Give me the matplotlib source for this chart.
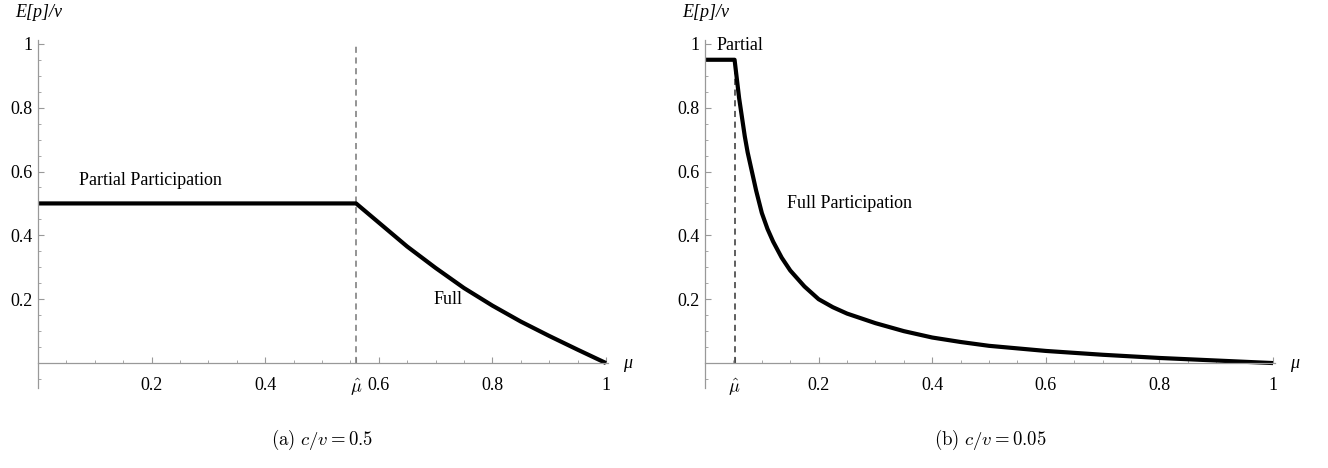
import matplotlib.pyplot as plt
from matplotlib.ticker import MultipleLocator

plt.rcParams['mathtext.fontset'] = 'cm'

# panel (a): c/v = 0.5
mu_a = [0, 0.56, 0.6, 0.65, 0.7, 0.75, 0.8, 0.85, 0.9, 0.95, 1.0]
p_a = [0.5, 0.5, 0.44, 0.365, 0.298, 0.235, 0.18, 0.13, 0.085, 0.042, 0.0]
muhat_a = 0.56

# panel (b): c/v = 0.05
mu_b = [0, 0.052, 0.056, 0.06, 0.065, 0.07, 0.075, 0.08, 0.09, 0.1, 0.11, 0.12,
        0.135, 0.15, 0.175, 0.2, 0.225, 0.25, 0.3, 0.35, 0.4, 0.45, 0.5,
        0.6, 0.7, 0.8, 0.9, 1.0]
p_b = [0.95, 0.95, 0.89, 0.83, 0.77, 0.71, 0.66, 0.62, 0.54, 0.47, 0.42, 0.38,
       0.33, 0.29, 0.24, 0.2, 0.175, 0.155, 0.125, 0.1, 0.08, 0.066, 0.054,
       0.038, 0.026, 0.016, 0.008, 0.0]
muhat_b = 0.052

yticks = [0.2, 0.4, 0.6, 0.8, 1]
ylabels = ['0.2', '0.4', '0.6', '0.8', '1']
xticks_a = [0.2, 0.4, muhat_a, 0.6, 0.8, 1]
xlabels_a = ['0.2', '0.4', r'$\hat{\mu}$', '0.6', '0.8', '1']
xticks_b = [muhat_b, 0.2, 0.4, 0.6, 0.8, 1]
xlabels_b = [r'$\hat{\mu}$', '0.2', '0.4', '0.6', '0.8', '1']

fig = plt.figure(figsize=(13.28, 4.68), dpi=100)
ax1 = fig.add_axes([0.0286, 0.171, 0.429, 0.7436])
ax2 = fig.add_axes([0.5309, 0.171, 0.429, 0.7436])

grey = '#999999'
serif = 'Liberation Serif'
fs = 13


def setup(ax, xt, xl):
    ax.set_xlim(0, 1.003)
    ax.set_ylim(-0.078, 1.012)
    for s in ['top', 'right']:
        ax.spines[s].set_visible(False)
    ax.spines['bottom'].set_position(('data', 0))
    ax.spines['left'].set_position(('data', 0))
    for s in ['bottom', 'left']:
        ax.spines[s].set_color(grey)
        ax.spines[s].set_linewidth(0.9)
    ax.set_xticks(xt)
    ax.set_xticklabels(xl, fontfamily=serif, fontsize=fs)
    ax.set_yticks(yticks)
    ax.set_yticklabels(ylabels, fontfamily=serif, fontsize=fs)
    ax.xaxis.set_minor_locator(MultipleLocator(0.05))
    ax.yaxis.set_minor_locator(MultipleLocator(0.05))
    ax.tick_params(which='major', direction='in', length=4, color=grey, width=0.8)
    ax.tick_params(which='minor', direction='in', length=2, color=grey, width=0.6)
    ax.tick_params(axis='x', pad=10)
    ax.tick_params(axis='y', pad=4)
    ax.text(1.03, 0.0, 'μ', fontsize=fs, family=serif, style='italic',
            ha='left', va='center')
    ax.text(-0.04, 1.07, 'E[p]/v', fontsize=fs, ha='left', va='bottom',
            family=serif, style='italic', clip_on=False)


setup(ax1, xticks_a, xlabels_a)
setup(ax2, xticks_b, xlabels_b)

ax1.plot([muhat_a, muhat_a], [0, 1.0], color='#777777', ls=(0, (4, 3)), lw=1.1)
ax1.plot(mu_a, p_a, color='black', lw=3, solid_capstyle='butt', clip_on=False)
ax1.text(0.198, 0.545, 'Partial Participation', family=serif, fontsize=fs, ha='center', va='bottom')
ax1.text(0.722, 0.2, 'Full', family=serif, fontsize=fs, ha='center', va='center')

ax2.plot([muhat_b, muhat_b], [0, 0.95], color='#333333', ls=(0, (4, 3)), lw=1.1)
ax2.plot(mu_b, p_b, color='black', lw=3, solid_capstyle='butt', clip_on=False)
ax2.text(0.02, 0.995, 'Partial', family=serif, fontsize=fs, ha='left', va='center')
ax2.text(0.254, 0.5, 'Full Participation', family=serif, fontsize=fs, ha='center', va='center')

fig.text(0.2425, 0.05, r'$\mathrm{(a)}\ c/v = 0.5$', fontsize=13.5, ha='center')
fig.text(0.7455, 0.05, r'$\mathrm{(b)}\ c/v = 0.05$', fontsize=13.5, ha='center')

fig.savefig('out.png', dpi=100)
